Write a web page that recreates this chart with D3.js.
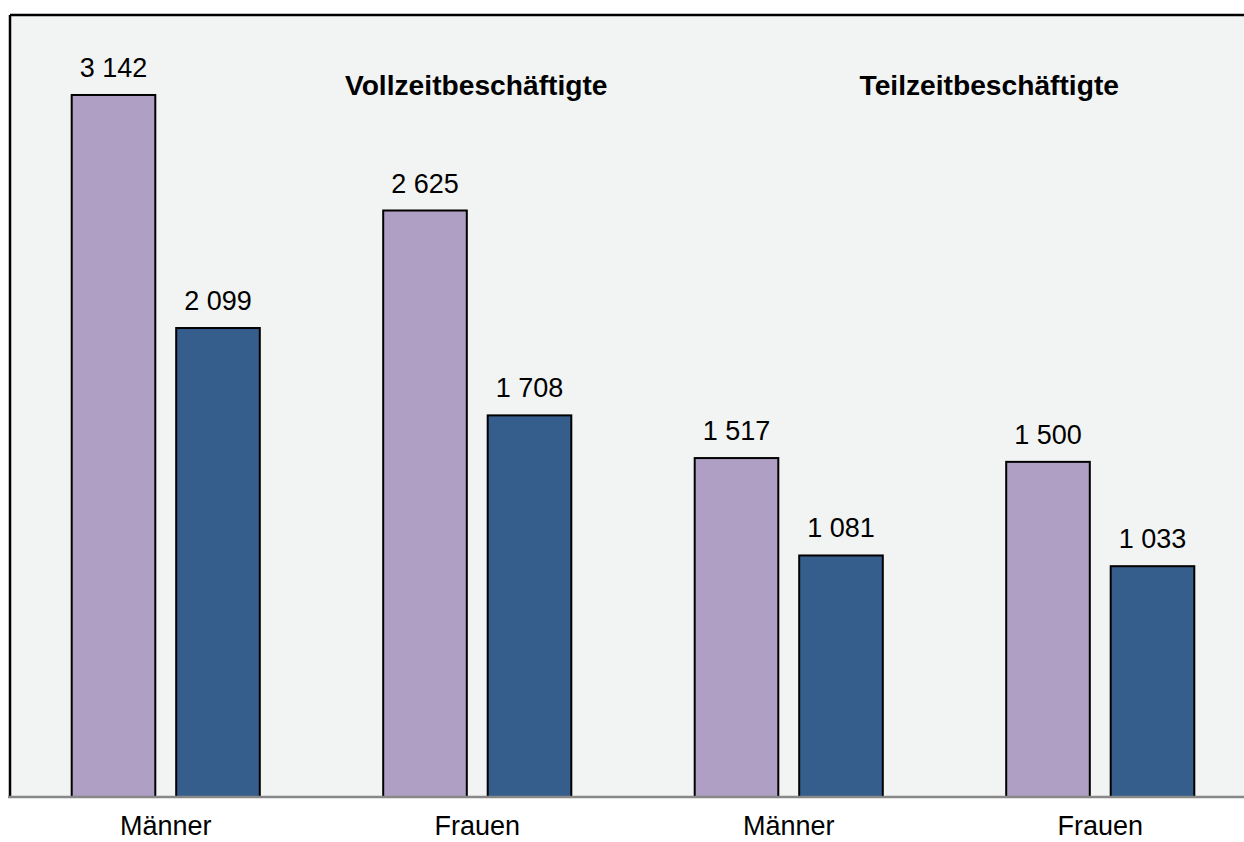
<!DOCTYPE html>
<html><head><meta charset="utf-8">
<script src="https://cdn.jsdelivr.net/npm/d3@7"></script>
<style>body{margin:0;background:#fff}svg{display:block}text{font-family:"Liberation Sans",Arial,sans-serif}</style>
</head><body>
<svg id="c" width="1244" height="842"></svg>
<script>
const categories = ["Männer", "Frauen", "Männer", "Frauen"];
const seriesA = [3142, 2625, 1517, 1500];   // purple
const seriesB = [2099, 1708, 1081, 1033];   // blue
const groupTitles = ["Vollzeitbeschäftigte", "Teilzeitbeschäftigte"];
const seriesKeys = ["a", "b"];
const colors = ["#b09fc4", "#365e8c"];

const svg = d3.select("#c");
const W = 1244, H = 842;
const mLeft = 10, mTop = 15, base = 797;
const fmt = v => d3.format(",")(v).replace(/,/g, " ");

const y = d3.scaleLinear().domain([0, 3500]).range([base, mTop]);
const x = d3.scaleBand().domain(d3.range(categories.length)).range([mLeft, mLeft + 311.5 * 4]).paddingInner(0).paddingOuter(0);
const inner = d3.scaleBand().domain(seriesKeys).range([-104.5, 104.5]).paddingInner(0.2).paddingOuter(0.1);

// plot background
svg.append("rect").attr("x", mLeft).attr("y", mTop).attr("width", W - mLeft + 5).attr("height", base - mTop).attr("fill", "#f2f4f3");

const data = categories.map((c, i) => ({i, c, vals: [seriesA[i], seriesB[i]]}));
const g = svg.selectAll("g.grp").data(data).join("g").attr("class", "grp")
  .attr("transform", d => `translate(${x(d.i) + x.bandwidth() / 2},0)`);

g.selectAll("rect").data(d => d.vals.map((v, k) => ({v, k}))).join("rect")
  .attr("x", d => inner(seriesKeys[d.k]))
  .attr("width", inner.bandwidth())
  .attr("y", d => y(d.v))
  .attr("height", d => base - y(d.v))
  .attr("fill", d => colors[d.k])
  .attr("stroke", "#000").attr("stroke-width", 2);

g.selectAll("text.val").data(d => d.vals.map((v, k) => ({v, k}))).join("text").attr("class", "val")
  .attr("x", d => inner(seriesKeys[d.k]) + inner.bandwidth() / 2)
  .attr("y", d => y(d.v) - 18)
  .attr("text-anchor", "middle").attr("font-size", 27).attr("fill", "#000")
  .text(d => fmt(d.v));

// borders
svg.append("line").attr("x1", mLeft).attr("x2", W).attr("y1", mTop).attr("y2", mTop).attr("stroke", "#000").attr("stroke-width", 2.5);
svg.append("line").attr("x1", mLeft).attr("x2", mLeft).attr("y1", mTop).attr("y2", base).attr("stroke", "#000").attr("stroke-width", 2.5);

// x axis
const xAxis = d3.axisBottom(x).tickSize(0).tickFormat(i => categories[i]);
const ax = svg.append("g").attr("transform", `translate(0,${base})`).call(xAxis);
ax.select(".domain").attr("stroke", "#888").attr("stroke-width", 2.5).attr("d", `M${mLeft - 2},0H${W}`);
ax.selectAll(".tick text").attr("font-size", 27).attr("fill", "#000").attr("dy", 0).attr("y", 38)
  .style("font-family", '"Liberation Sans",Arial,sans-serif');

// group titles
const titleX = [x(1) + x.bandwidth() / 2 - 1, x(3) + x.bandwidth() / 2 - 111];
svg.selectAll("text.title").data(groupTitles).join("text").attr("class", "title")
  .attr("x", (d, i) => titleX[i]).attr("y", 95)
  .attr("text-anchor", "middle").attr("font-size", 28.2).attr("font-weight", "bold").attr("fill", "#000")
  .text(d => d);
</script>
</body></html>
